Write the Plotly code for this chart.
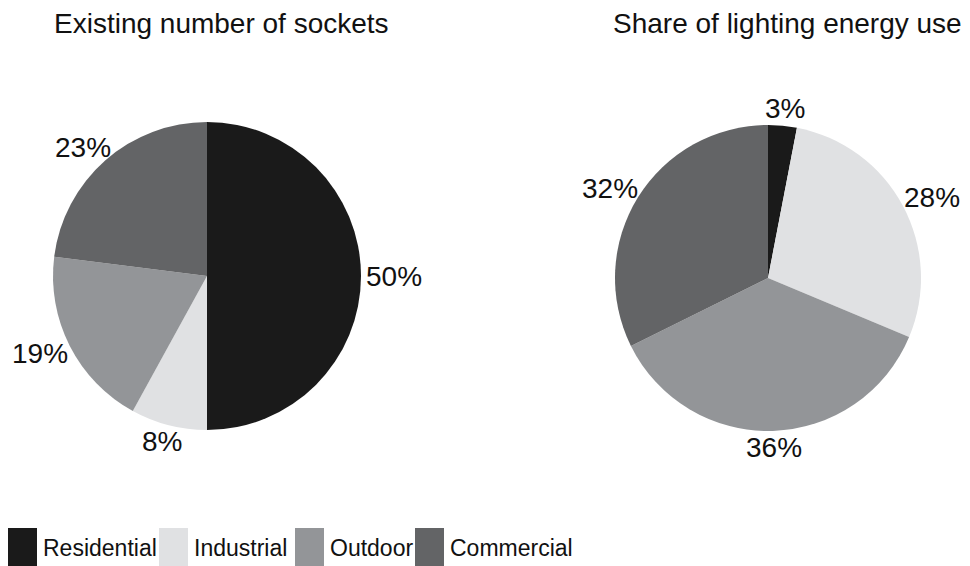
import math
import plotly.graph_objects as go

# Categories and shares (percent) for the two pies
categories = ["Residential", "Industrial", "Outdoor", "Commercial"]
sockets_share = [50, 8, 19, 23]
lighting_share = [3, 28, 36, 32]
titles = ["Existing number of sockets", "Share of lighting energy use"]
colors = ["#1a1a1a", "#e0e1e3", "#939598", "#636466"]

W, H = 970, 566
FONT = "Liberation Sans, Arial, sans-serif"
LABEL_SIZE = 28
INK = "#111111"

# Pie centres and radii in pixels
pies = [
    dict(values=sockets_share, cx=207, cy=276, r=154, title_x=221),
    dict(values=lighting_share, cx=768, cy=278, r=153, title_x=787),
]


def px_domain(cx, cy, r):
    """Paper-coordinate domain for a pie centred at (cx, cy) px with radius r px."""
    return dict(
        x=[(cx - r) / W, (cx + r) / W],
        y=[1 - (cy + r) / H, 1 - (cy - r) / H],
    )


def text_width(s, size):
    """Approximate Arial advance width of a percentage label."""
    widths = {"%": 0.889}
    return sum(widths.get(ch, 0.556) for ch in s) * size


fig = go.Figure()
for p in pies:
    vals = p["values"]
    fig.add_trace(go.Pie(
        labels=categories,
        values=vals,
        textinfo="none",
        sort=False,
        direction="clockwise",
        rotation=0,
        marker=dict(colors=colors, line=dict(width=0)),
        domain=px_domain(p["cx"], p["cy"], p["r"]),
        showlegend=False,
        hoverinfo="label+percent",
    ))

    # Percentage labels just outside each slice, along the slice's mid angle
    total = sum(vals)
    cum = 0.0
    gap = 5
    for v in vals:
        mid = (cum + v / 2) / total * 2 * math.pi  # clockwise from 12 o'clock
        cum += v
        s, c = math.sin(mid), math.cos(mid)
        label = f"{v}%"
        hw = text_width(label, LABEL_SIZE) / 2
        hh = 12
        px = p["cx"] + s * (p["r"] + gap) + s * hw
        py = p["cy"] - c * (p["r"] + gap) - c * hh
        fig.add_annotation(
            text=label, x=px / W, y=1 - py / H, xref="paper", yref="paper",
            showarrow=False, xanchor="center", yanchor="middle",
            font=dict(family=FONT, size=LABEL_SIZE, color=INK),
        )

    # Chart title
    fig.add_annotation(
        text=titles[pies.index(p)], x=p["title_x"] / W, y=1 - 24 / H,
        xref="paper", yref="paper", showarrow=False,
        xanchor="center", yanchor="middle",
        font=dict(family=FONT, size=28, color=INK),
    )

# Legend: colour swatches followed by category names
legend_x = [8, 159, 295, 415]
for name, col, x0 in zip(categories, colors, legend_x):
    fig.add_shape(
        type="rect", xref="paper", yref="paper",
        x0=x0 / W, x1=(x0 + 29) / W, y0=0, y1=1 - 528 / H,
        fillcolor=col, line=dict(width=0),
    )
    fig.add_annotation(
        text=name, x=(x0 + 33) / W, y=1 - 548 / H, xref="paper", yref="paper",
        showarrow=False, xanchor="left", yanchor="middle",
        font=dict(family=FONT, size=23, color=INK),
    )

fig.update_layout(
    width=W, height=H,
    margin=dict(l=0, r=0, t=0, b=0),
    paper_bgcolor="white", plot_bgcolor="white",
)

fig.write_html("out.html")
